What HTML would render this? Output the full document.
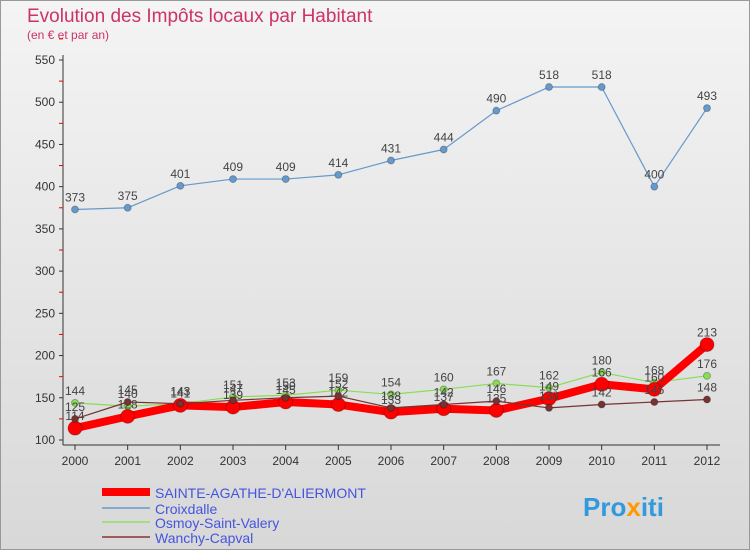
<!DOCTYPE html>
<html><head><meta charset="utf-8"><style>
body{margin:0;width:750px;height:550px;overflow:hidden;font-family:"Liberation Sans",sans-serif}
</style></head><body>
<svg width="750" height="550" xmlns="http://www.w3.org/2000/svg">
<defs><linearGradient id="bg" x1="0" y1="0" x2="0" y2="1"><stop offset="0" stop-color="#f4f4f4"/><stop offset="1" stop-color="#d8d8d8"/></linearGradient></defs>
<rect x="0.5" y="0.5" width="749" height="549" fill="url(#bg)" stroke="#999"/>
<text x="27" y="22" font-size="19" fill="#cc3366">Evolution des Impôts locaux par Habitant</text>
<text x="27" y="39" font-size="12" fill="#cc3366">(en € et par an)</text>
<g id="axes"></g><g id="series"></g>
<g>
<line x1="102" y1="492" x2="150" y2="492" stroke="#ff0000" stroke-width="8"/>
<text x="155" y="498" font-size="14" fill="#4455dd">SAINTE-AGATHE-D'ALIERMONT</text>
<line x1="102" y1="508" x2="150" y2="508" stroke="#6699cc" stroke-width="1.5"/>
<text x="155" y="514" font-size="14" fill="#4455dd">Croixdalle</text>
<line x1="102" y1="522" x2="150" y2="522" stroke="#99dd66" stroke-width="1.5"/>
<text x="155" y="528" font-size="14" fill="#4455dd">Osmoy-Saint-Valery</text>
<line x1="102" y1="537" x2="150" y2="537" stroke="#883333" stroke-width="1.5"/>
<text x="155" y="543" font-size="14" fill="#4455dd">Wanchy-Capval</text>
</g>
<text x="583" y="516" font-size="26" font-weight="bold" fill="#3399dd">Pro<tspan fill="#ff9900">x</tspan>iti</text>
</svg>
<script>
const years=[2000,2001,2002,2003,2004,2005,2006,2007,2008,2009,2010,2011,2012];
const yTicks=[100,150,200,250,300,350,400,450,500,550];
const sainte=[114,128,141,139,145,142,133,137,135,149,166,160,213];
const croix=[373,375,401,409,409,414,431,444,490,518,518,400,493];
const osmoy=[144,140,143,151,153,159,154,160,167,162,180,168,176];
const wanchy=[125,145,143,147,150,152,138,142,146,138,142,145,148];
const NS="http://www.w3.org/2000/svg";
const X=i=>75+i*(632/12), Y=v=>440-(v-100)*380/450;
function mk(t,a,p){const e=document.createElementNS(NS,t);for(const k in a)e.setAttribute(k,a[k]);p.appendChild(e);return e;}
const ax=document.getElementById('axes'), sg=document.getElementById('series');
mk('line',{x1:63,y1:55,x2:63,y2:445,stroke:'#333'},ax);
mk('line',{x1:63,y1:445,x2:720,y2:445,stroke:'#333'},ax);
yTicks.forEach(v=>{const l=mk('line',{x1:59,x2:63,y1:Y(v),y2:Y(v),stroke:'#333'},ax);

const m=mk('line',{x1:59,x2:63,y1:Y(v+25),y2:Y(v+25),stroke:'#e00'},ax);
const t=mk('text',{x:55,y:Y(v)+4,'font-size':12,'text-anchor':'end',fill:'#333'},ax);t.textContent=v;
});
years.forEach((y,i)=>{mk('line',{x1:X(i),x2:X(i),y1:445,y2:450,stroke:'#333'},ax);
const t=mk('text',{x:X(i),y:465,'font-size':12,'text-anchor':'middle',fill:'#333'},ax);t.textContent=y;
});
function series(d,col,w,r,name){const g=mk('g',{},sg);

mk('polyline',{points:d.map((v,i)=>X(i)+','+Y(v)).join(' '),fill:'none',stroke:col,'stroke-width':w,'stroke-linejoin':'round'},g);
d.forEach((v,i)=>{const c=mk('circle',{cx:X(i),cy:Y(v),r:r,fill:col,stroke:'rgba(0,0,0,0.25)'},g);

const t=mk('text',{x:X(i),y:Y(v)-8,'font-size':12,'text-anchor':'middle',fill:'#444'},g);t.textContent=v;});}
series(croix,'#6699cc',1.2,3.5,'series-croixdalle');
series(osmoy,'#88dd55',1.2,3.5,'series-osmoy');
series(sainte,'#ff0000',8,7,'series-sainte-agathe');
series(wanchy,'#773333',1.2,3.5,'series-wanchy');
</script>
</body></html>
